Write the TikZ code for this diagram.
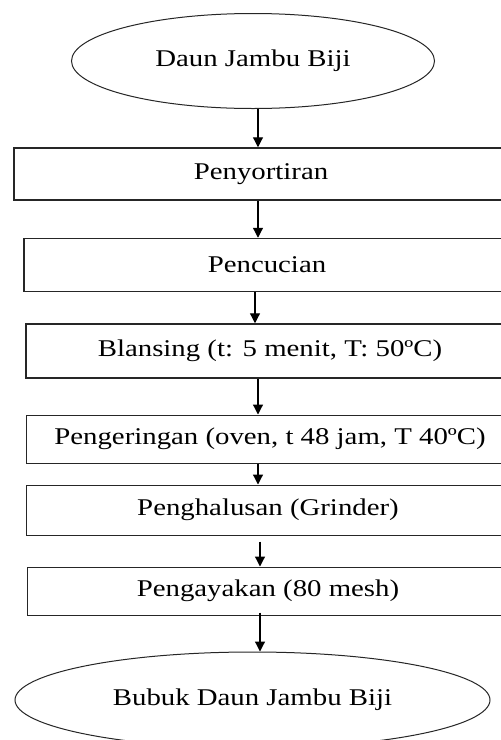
\documentclass[tikz,border=0pt]{standalone}
\usepackage{fontspec}
\setmainfont[FakeStretch=1.2]{Liberation Serif}
\usetikzlibrary{shapes.geometric,arrows.meta}
\begin{document}
\begin{tikzpicture}[x=1pt,y=-1pt,
  lbl/.style={font=\fontsize{24}{28}\selectfont},
  proc/.style={draw=black!85,rectangle,inner sep=0pt,lbl},
  thick box/.style={line width=1.5pt},
  thin box/.style={line width=1pt},
  term/.style={draw=black!85,line width=1pt,ellipse,inner sep=0pt,lbl},
  arr/.style={line width=1.2pt,-{Triangle[length=10pt,width=10pt]}}]
\useasboundingbox (0,0) rectangle (501,740);
\clip (0,0) rectangle (501,740);
\fill[white] (0,0) rectangle (501,740);
\node[term,minimum width=363pt,minimum height=95pt] (e1) at (253,61) {Daun Jambu Biji};
\node[proc,thick box,minimum width=494pt,minimum height=52pt] (b1) at (261,174) {Penyortiran};
\node[proc,thick box,minimum width=486pt,minimum height=53pt] (b2) at (267,265) {Pencucian};
\node[proc,thick box,minimum width=488pt,minimum height=54pt] (b3) at (270,351) {Blansing (t: 5 menit, T: 50ºC)};
\node[proc,thin box,minimum width=488pt,minimum height=48pt] (b4) at (270,439) {Pengeringan (oven, t 48 jam, T 40ºC)};
\node[proc,thin box,minimum width=483pt,minimum height=50pt] (b5) at (268,510) {Penghalusan (Grinder)};
\node[proc,thin box,minimum width=482pt,minimum height=48pt] (b6) at (268,591) {Pengayakan (80 mesh)};
\node[term,minimum width=475pt,minimum height=96pt] (e2) at (252.5,700) {Bubuk Daun Jambu Biji};
\coordinate (xa) at (258,0);
\coordinate (xb) at (255,0);
\coordinate (xc) at (260,0);
\draw[arr] (e1.south -| xa) -- (b1.north -| xa);
\draw[arr] (b1.south -| xa) -- (b2.north -| xa);
\draw[arr] (b2.south -| xb) -- (b3.north -| xb);
\draw[arr] (b3.south -| xa) -- (b4.north -| xa);
\draw[arr] (b4.south -| xa) -- (b5.north -| xa);
\draw[arr,shorten <=6pt] (b5.south -| xc) -- (b6.north -| xc);
\draw[arr,shorten <=-3pt] (b6.south -| xc) -- (e2.north -| xc);
\end{tikzpicture}
\end{document}
